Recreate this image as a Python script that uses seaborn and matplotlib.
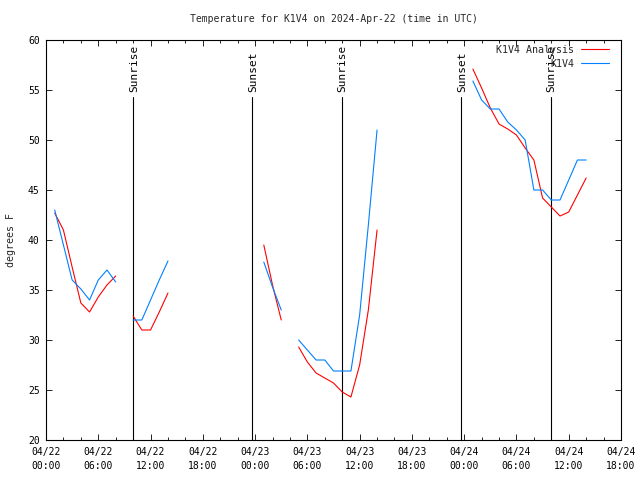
import numpy as np
import pandas as pd
import matplotlib
matplotlib.use("Agg")
import matplotlib.pyplot as plt
from matplotlib.ticker import MultipleLocator, FixedLocator
import seaborn as sns

# ---------------- data ----------------
title = "Temperature for K1V4 on 2024-Apr-22 (time in UTC)"
ylabel = "degrees F"
series_names = ["K1V4 Analysis", "K1V4"]
series_colors = ["#ff0000", "#0080ff"]

# hours since 2024-04-22 00:00 UTC, split into contiguous segments
analysis_hours = [list(range(1, 9)), list(range(10, 15)), list(range(25, 28)),
                  list(range(29, 39)), list(range(49, 63))]
analysis_vals = [
    [42.7, 41.0, 37.3, 33.7, 32.8, 34.3, 35.5, 36.4],
    [32.4, 31.0, 31.0, 32.8, 34.7],
    [39.5, 35.5, 32.0],
    [29.3, 27.8, 26.7, 26.2, 25.7, 24.8, 24.3, 27.5, 33.0, 41.0],
    [57.1, 55.2, 53.2, 51.6, 51.1, 50.5, 49.2, 48.0, 44.2, 43.3, 42.4, 42.8, 44.5, 46.2],
]
obs_hours = [list(range(1, 9)), list(range(10, 15)), list(range(25, 28)),
             list(range(29, 39)), list(range(49, 63))]
obs_vals = [
    [43.0, 39.5, 36.0, 35.1, 34.0, 36.0, 37.0, 35.8],
    [32.0, 32.0, 34.0, 36.0, 37.9],
    [37.8, 35.3, 33.0],
    [30.0, 29.0, 28.0, 28.0, 26.9, 26.9, 26.9, 32.5, 41.5, 51.0],
    [55.9, 54.0, 53.1, 53.1, 51.8, 51.0, 50.0, 45.0, 45.0, 44.0, 44.0, 46.0, 48.0, 48.0],
]

sun_hours = [10.03, 23.70, 33.92, 47.69, 57.91]
sun_labels = ["Sunrise", "Sunset", "Sunrise", "Sunset", "Sunrise"]
sun_line_top = 54.3

xtick_hours = [0, 6, 12, 18, 24, 30, 36, 42, 48, 54, 60, 66]
xtick_labels = ["04/22\n00:00", "04/22\n06:00", "04/22\n12:00", "04/22\n18:00",
                "04/23\n00:00", "04/23\n06:00", "04/23\n12:00", "04/23\n18:00",
                "04/24\n00:00", "04/24\n06:00", "04/24\n12:00", "04/24\n18:00"]
ytick_vals = [20, 25, 30, 35, 40, 45, 50, 55, 60]

# ---------------- build table ----------------
rows = []
for name, hrs_list, val_list in [(series_names[0], analysis_hours, analysis_vals),
                                 (series_names[1], obs_hours, obs_vals)]:
    for seg, (hrs, vals) in enumerate(zip(hrs_list, val_list)):
        for h, v in zip(hrs, vals):
            rows.append({"hour": h, "temp": v, "series": name, "seg": seg})
df = pd.DataFrame(rows)

# ---------------- plot ----------------
sns.set_theme(style="white")
plt.rcParams["font.family"] = ["DejaVu Sans Mono", "DejaVu Sans"]
plt.rcParams["font.size"] = 7

fig = plt.figure(figsize=(6.4, 4.8), dpi=100)
ax = fig.add_axes([46 / 640, 40 / 480, 575 / 640, 400 / 480])

sns.lineplot(data=df, x="hour", y="temp", hue="series", units="seg", estimator=None,
             hue_order=series_names, palette=dict(zip(series_names, series_colors)),
             linewidth=0.8, ax=ax, sort=True)

for h, lab in zip(sun_hours, sun_labels):
    ax.plot([h, h], [20, sun_line_top], color="black", linewidth=0.8, zorder=1)
    ax.text(h + 0.1, sun_line_top + 0.5, lab, rotation=90, ha="center", va="bottom",
            fontsize=8, color="black")

ax.set_xlim(xtick_hours[0], xtick_hours[-1])
ax.set_ylim(ytick_vals[0], ytick_vals[-1])
ax.xaxis.set_major_locator(FixedLocator(xtick_hours))
ax.set_xticklabels(xtick_labels, linespacing=1.45)
ax.xaxis.set_minor_locator(MultipleLocator(2))
ax.yaxis.set_major_locator(FixedLocator(ytick_vals))
ax.set_yticklabels([str(v) for v in ytick_vals])
ax.tick_params(axis="both", which="both", direction="in", top=True, right=True,
               bottom=True, left=True, color="black", labelsize=7, labelcolor="black")
ax.tick_params(axis="both", which="major", length=4, width=0.6)
ax.tick_params(axis="both", which="minor", length=2.5, width=0.6)
ax.tick_params(axis="x", which="major", pad=5)
ax.tick_params(axis="y", which="major", pad=4.5)
for sp in ax.spines.values():
    sp.set_color("black")
    sp.set_linewidth(0.8)
ax.set_xlabel("")
ax.set_ylabel("")
ax.grid(False)

leg = ax.get_legend()
handles = leg.legend_handles
labels = [t.get_text() for t in leg.get_texts()]
leg.remove()
ax.legend(handles, labels, loc="upper right", bbox_to_anchor=(1.0 - 7 / 575, 1.0),
          frameon=False, markerfirst=False, fontsize=7.2, handlelength=2.8,
          handletextpad=0.7, labelspacing=0.4, borderaxespad=0.2, borderpad=0.3)

fig.text(333.5 / 640, 1 - 19 / 480, title, ha="center", va="center", fontsize=7)
fig.text(11 / 640, 0.5, ylabel, rotation=90, ha="center", va="center", fontsize=7.2)

fig.savefig("out.png", dpi=100, facecolor="white")
